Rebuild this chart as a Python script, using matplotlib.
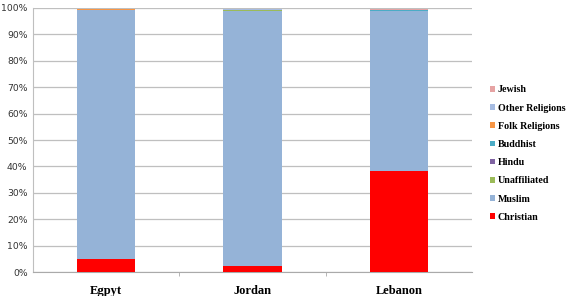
import matplotlib.pyplot as plt
import numpy as np

countries = ['Egpyt', 'Jordan', 'Lebanon']
religions = ['Christian', 'Muslim', 'Unaffiliated', 'Hindu', 'Buddhist',
             'Folk Religions', 'Other Religions', 'Jewish']
colors = ['#FF0000', '#95B3D7', '#9BBB59', '#8064A2', '#4BACC6',
          '#F79646', '#A6BCE2', '#E6A3A3']

christian = [5.1, 2.2, 38.3]
muslim = [94.1, 96.8, 60.5]
unaffiliated = [0.1, 0.1, 0.2]
hindu = [0.05, 0.05, 0.05]
buddhist = [0.05, 0.2, 0.05]
folk = [0.2, 0.05, 0.05]
other = [0.1, 0.1, 0.1]
jewish = [0.1, 0.2, 0.2]

series = [christian, muslim, unaffiliated, hindu, buddhist, folk, other, jewish]

fig = plt.figure(figsize=(5.70, 2.96), dpi=100)
ax = fig.add_axes([0.058, 0.081, 0.77, 0.892])

x = np.arange(len(countries))
bottom = np.zeros(len(countries))
handles = []
for name, vals, c in zip(religions, series, colors):
    b = ax.bar(x, vals, width=0.40, bottom=bottom, color=c, label=name,
               linewidth=0, zorder=3)
    handles.append(b)
    bottom += np.array(vals)

ax.set_xlim(-0.5, 2.5)
ax.set_ylim(0, 100)
ax.set_yticks(range(0, 101, 10))
ax.set_yticklabels([f'{v}%' for v in range(0, 101, 10)], fontsize=6.7,
                   color='#333333', family='DejaVu Sans')
ax.yaxis.grid(True, color='#BFBFBF', linewidth=0.9, zorder=0)
ax.tick_params(axis='y', length=0, pad=4)

ax.set_xticks(x)
ax.set_xticklabels(countries, fontsize=9, fontweight='bold',
                   family='Liberation Serif')
ax.set_xticks([0.5, 1.5], minor=True)
ax.tick_params(axis='x', which='major', length=0, pad=9)
ax.tick_params(axis='x', which='minor', length=3, color='#AAAAAA')

for s in ['top', 'right']:
    ax.spines[s].set_visible(False)
ax.spines['left'].set_color('#BFBFBF')
ax.spines['bottom'].set_color('#AAAAAA')

fig.legend(handles[::-1], religions[::-1], loc='upper left',
           bbox_to_anchor=(0.843, 0.742), frameon=False,
           prop={'family': 'Liberation Serif', 'weight': 'bold', 'size': 7.2},
           handlelength=0.5, handleheight=0.5, handletextpad=0.3,
           labelspacing=0.92)

fig.savefig('out.png', dpi=100)
